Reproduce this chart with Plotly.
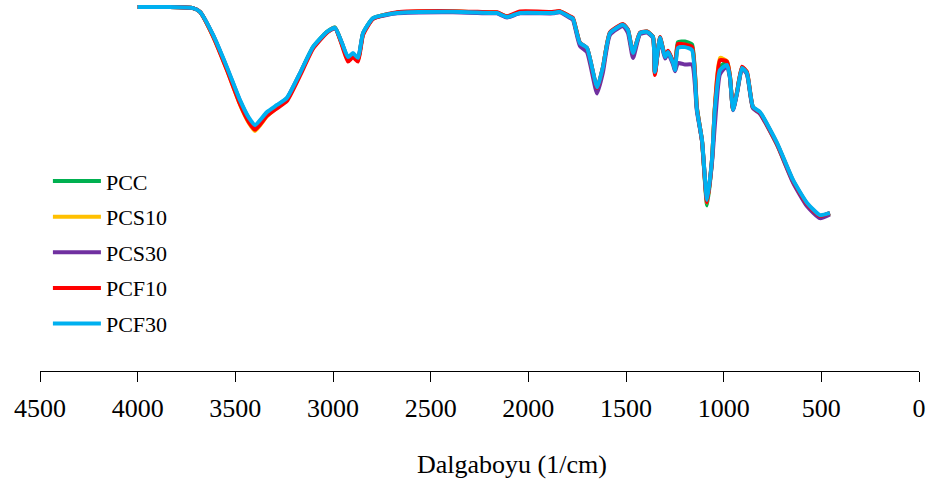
import plotly.graph_objects as go

wavenumber = [4000, 3850, 3717, 3681, 3614, 3543, 3476, 3430, 3399, 3338, 3287, 3236, 3169, 3103,
              3031, 2990, 2954, 2923, 2898, 2872, 2846, 2795, 2672, 2386, 2200, 2160, 2109, 2043,
              1874, 1838, 1787, 1772, 1736, 1700, 1648, 1618, 1582, 1515, 1490, 1464, 1428, 1393,
              1362, 1352, 1326, 1300, 1285, 1259, 1249, 1234, 1198, 1162, 1137, 1111, 1085, 1060,
              1044, 1019, 983, 968, 952, 932, 906, 881, 850, 814, 727, 645, 573, 507, 456]

pcf30 = [98.1, 98.1, 97.8, 96.8, 90.6, 81.9, 73.0, 68.2, 66.3, 69.8, 71.7, 73.6, 80.3, 87.3,
         91.4, 92.5, 88.4, 84.6, 85.7, 84.4, 91.1, 95.1, 96.5, 96.8, 96.5, 96.5, 95.4, 96.5,
         96.5, 96.8, 95.4, 95.0, 88.4, 87.1, 76.5, 81.9, 91.1, 93.3, 91.9, 85.7, 91.1, 91.4,
         90.0, 80.6, 89.8, 84.6, 86.0, 83.0, 81.1, 87.1, 87.3, 86.5, 70.4, 62.3, 46.1, 56.9,
         71.2, 81.1, 82.5, 79.2, 70.4, 74.9, 81.7, 80.3, 71.2, 69.8, 61.5, 51.5, 45.3, 42.0, 42.6]

pcc = [98.1, 98.1, 97.8, 96.8, 90.4, 81.5, 72.4, 67.5, 65.6, 69.2, 71.3, 73.3, 80.1, 87.2,
       91.4, 92.6, 88.2, 84.0, 85.2, 83.9, 91.0, 95.1, 96.6, 96.9, 96.6, 96.6, 95.5, 96.6,
       96.7, 96.9, 95.5, 95.1, 88.4, 87.0, 76.2, 81.8, 91.2, 93.4, 91.9, 85.6, 91.1, 91.5,
       90.1, 80.3, 89.9, 84.8, 86.2, 83.2, 81.3, 88.6, 88.8, 88.0, 71.0, 62.0, 44.6, 56.5,
       71.5, 82.0, 83.2, 79.5, 70.6, 75.0, 81.8, 80.3, 71.0, 69.6, 61.2, 51.2, 45.0, 41.8, 42.5]

pcs10 = [98.1, 98.1, 97.8, 96.8, 90.2, 81.2, 71.8, 66.8, 64.7, 68.7, 71.0, 73.1, 80.0, 87.1,
         91.3, 92.5, 88.1, 84.0, 85.1, 83.8, 90.9, 95.0, 96.6, 96.9, 96.6, 96.6, 95.5, 96.7,
         96.7, 96.9, 95.5, 95.1, 88.3, 86.9, 76.0, 81.7, 91.1, 93.3, 91.8, 85.5, 91.0, 91.4,
         90.0, 80.2, 89.8, 84.6, 86.0, 83.1, 81.2, 87.9, 87.9, 87.1, 70.7, 62.2, 45.4, 56.7,
         72.0, 84.4, 83.5, 79.6, 70.5, 75.0, 81.9, 80.5, 71.0, 69.5, 61.0, 51.0, 44.8, 41.6, 42.4]

pcs30 = [98.1, 98.1, 97.8, 96.8, 90.5, 81.7, 72.8, 67.9, 66.0, 69.6, 71.5, 73.5, 80.2, 87.1,
         91.3, 92.4, 88.3, 84.3, 85.4, 84.2, 91.0, 95.0, 96.4, 96.7, 96.4, 96.4, 95.3, 96.4,
         96.4, 96.7, 95.2, 94.7, 87.6, 86.0, 74.8, 80.5, 90.6, 93.0, 91.1, 84.4, 90.8, 91.2,
         89.8, 80.2, 89.5, 84.2, 85.6, 82.6, 80.8, 83.0, 82.6, 82.6, 70.0, 62.0, 45.8, 56.0,
         67.0, 80.0, 82.2, 79.0, 70.3, 74.7, 81.5, 80.0, 70.8, 69.3, 61.0, 50.8, 44.4, 41.2, 42.2]

pcf10 = [98.1, 98.1, 97.8, 96.8, 90.2, 81.1, 71.9, 67.0, 65.0, 68.8, 70.8, 72.8, 79.6, 86.8,
         91.2, 92.5, 87.8, 83.4, 84.6, 83.4, 90.6, 94.9, 96.7, 97.0, 96.7, 96.7, 95.6, 96.9,
         96.8, 97.0, 95.6, 95.2, 88.5, 87.1, 76.3, 81.9, 91.3, 93.5, 92.0, 85.8, 91.2, 91.5,
         90.1, 79.8, 90.0, 84.9, 86.3, 83.3, 81.4, 88.2, 88.0, 87.4, 70.8, 62.1, 45.5, 56.8,
         71.8, 83.8, 83.4, 79.5, 70.6, 75.1, 82.0, 80.6, 71.1, 69.6, 61.3, 51.3, 45.0, 41.8, 42.6]

series_names = ["PCC", "PCS10", "PCS30", "PCF10", "PCF30"]
series_values = [pcc, pcs10, pcs30, pcf10, pcf30]
series_colors = ["#00B050", "#FFC000", "#7030A0", "#FF0000", "#00B0F0"]

xticks = [4500, 4000, 3500, 3000, 2500, 2000, 1500, 1000, 500, 0]
x_title = "Dalgaboyu (1/cm)"

FONT = "Liberation Serif"

fig = go.Figure()
for i, (name, vals, col) in enumerate(zip(series_names, series_values, series_colors)):
    fig.add_trace(go.Scatter(
        x=wavenumber, y=vals, mode="lines", name=name,
        line=dict(color=col, width=4, shape="spline", smoothing=0.5),
        legendgroup=name,
    ))

fig.update_layout(
    width=927, height=485,
    margin=dict(l=40, r=8, t=0, b=114, autoexpand=False),
    paper_bgcolor="white", plot_bgcolor="white",
    font=dict(family=FONT, color="black"),
    showlegend=True,
    legend=dict(
        x=0.009, y=0.32, xanchor="left", yanchor="middle",
        font=dict(family=FONT, size=22, color="black"),
        tracegroupgap=4, itemwidth=48,
        bgcolor="rgba(0,0,0,0)",
    ),
    xaxis=dict(
        range=[4500, 0], tickmode="array", tickvals=xticks,
        ticktext=[str(v) for v in xticks], automargin=False,
        showgrid=False, zeroline=False, showline=True, linecolor="black", linewidth=1,
        ticks="outside", ticklen=10, tickcolor="black", ticklabelstandoff=4,
        tickfont=dict(family=FONT, size=26, color="black"),
    ),
    yaxis=dict(range=[0, 100], visible=False, showgrid=False, zeroline=False, automargin=False),
    annotations=[dict(
        text=x_title, xref="paper", yref="paper", x=0.537, y=-0.253,
        xanchor="center", yanchor="middle", showarrow=False,
        font=dict(family=FONT, size=26, color="black"),
    )],
)

fig.write_html("out.html", config={"displayModeBar": False},
               post_script="document.body.style.margin='0';document.body.style.padding='0';")
